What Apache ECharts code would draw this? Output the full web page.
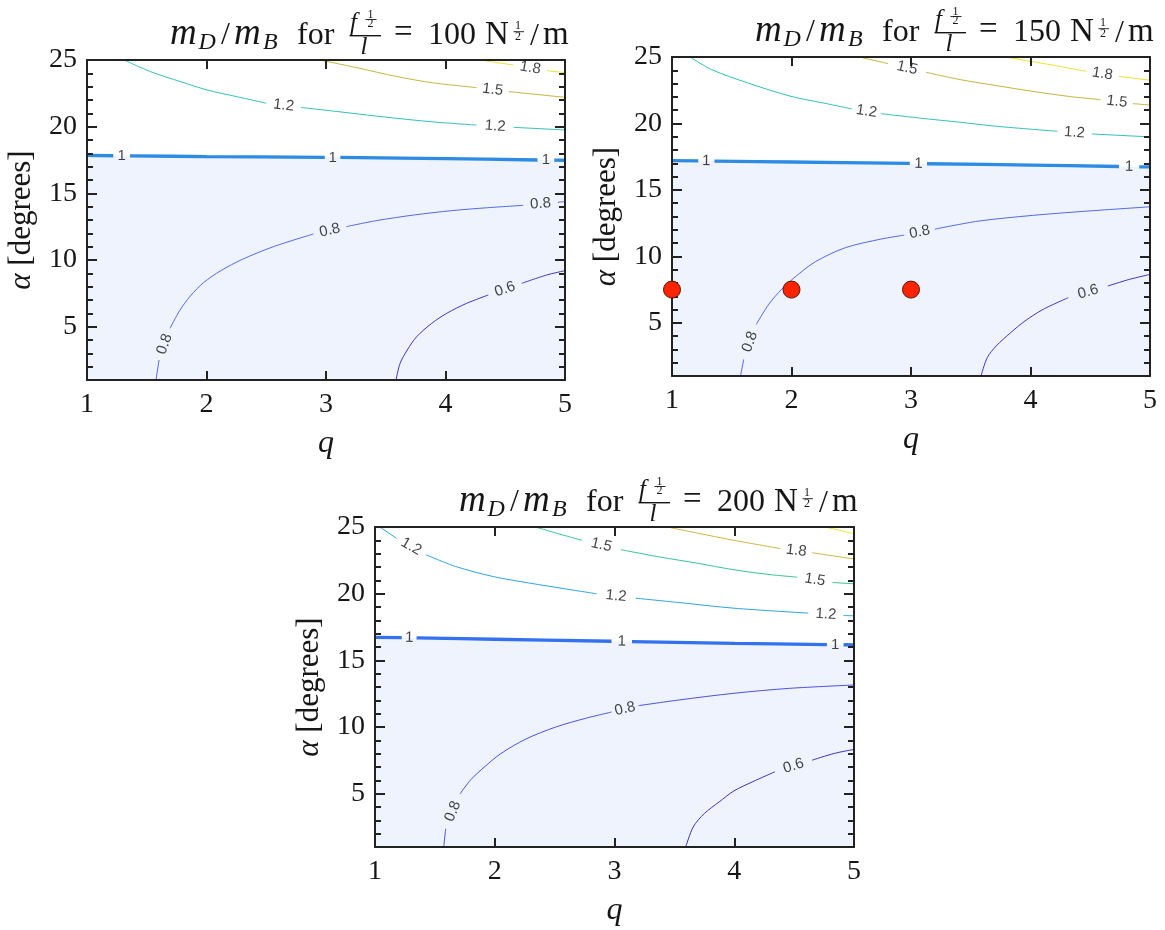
<!DOCTYPE html>
<html><head><meta charset="utf-8">
<script src="https://cdn.jsdelivr.net/npm/echarts@6/dist/echarts.min.js"></script>
<style>html,body{margin:0;padding:0;background:#fff}#c{width:1165px;height:930px}</style>
</head><body><div id="c"></div>
<script>
// ---------------- DATA ----------------
const qTicks = [1, 2, 3, 4, 5];
const alphaTicks = [5, 10, 15, 20, 25];
const alphaRange = [1, 25];
const titleValues = ['100', '150', '200'];

// contour polylines [q, alpha]; null = gap where the contour label sits
// Panel 1 : f^(1/2)/l = 100
const p1_c06 = [[3.586,1.0],[3.62,2.25],[3.68,3.25],[3.759,4.25],[3.885,5.25],[4.01,6.0],[4.177,6.75],[4.358,7.375],null,[4.638,8.25],[4.847,8.875],[5.0,9.2]];
const p1_c08 = [[1.577,1.0],[1.603,2.5],null,[1.695,4.875],[1.775,6.2],[1.865,7.3],[1.975,8.3],[2.12,9.2],[2.3,10.05],[2.56,11.0],[2.894,11.95],null,[3.17,12.5],[3.42,12.95],[3.74,13.38],[4.05,13.7],[4.35,13.92],[4.65,14.1],null,[4.94,14.33],[5.0,14.38]];
const p1_c10 = [[1,17.84],[1.22,17.82],null,[1.36,17.81],[2,17.76],[2.99,17.7],null,[3.12,17.69],[4,17.6],[4.77,17.5],null,[4.91,17.49],[5,17.48]];
const p1_c12 = [[1.312,25],[1.533,24.12],[1.785,23.37],[2.006,22.75],[2.258,22.24],[2.5,21.76],null,[2.79,21.44],[3.109,21.12],[3.424,20.79],[3.739,20.49],[4.0,20.28],[4.26,20.12],null,[4.57,19.95],[5,19.75]];
const p1_c15 = [[2.95,25],[3.27,24.4],[3.58,23.78],[3.9,23.28],[4.26,22.93],null,[4.53,22.63],[5,22.2]];
const p1_c18 = [[4.29,25],[4.57,24.62],null,[4.85,24.2],[5,24.05]];

// Panel 2 : f^(1/2)/l = 150
const p2_c06 = [[3.586,1],[3.638,2.38],[3.713,3.26],[3.834,4.26],[3.954,5.14],[4.105,6.01],[4.316,6.89],null,[4.647,7.77],[4.828,8.27],[5,8.64]];
const p2_c08 = [[1.573,1],[1.6,2.25],null,[1.705,4.88],[1.81,6.4],[1.92,7.55],[2.03,8.45],[2.2,9.6],[2.45,10.65],[2.748,11.3],[2.944,11.6],null,[3.2,12.05],[3.562,12.65],[4.014,13.08],[4.466,13.4],[5,13.73]];
const p2_c10 = [[1,17.21],[1.22,17.19],null,[1.355,17.17],[2,17.1],[2.99,16.99],null,[3.134,16.97],[4,16.87],[4.74,16.76],null,[4.91,16.74],[5,16.73]];
const p2_c12 = [[1.151,25],[1.332,24.05],[1.633,23.05],[1.995,22.04],[2.266,21.54],[2.507,21.09],null,[2.748,20.74],[3.11,20.37],[3.411,20.09],[3.713,19.79],[4.225,19.41],null,[4.512,19.21],[5,18.99]];
const p2_c15 = [[2.567,25],[2.809,24.5],null,[3.125,23.85],[3.411,23.3],[3.713,22.85],[4.014,22.42],[4.316,22.04],[4.587,21.79],null,[4.858,21.49],[5,21.39]];
const p2_c18 = [[3.788,25],[4.165,24.42],[4.466,23.92],null,[4.738,23.55],[5,23.25]];
const p2_pointsQ = [1, 2, 3];
const p2_pointsAlpha = [7.5, 7.5, 7.5];

// Panel 3 : f^(1/2)/l = 200
const p3_c06 = [[3.595,1],[3.657,2.5],[3.75,3.51],[3.874,4.38],[3.998,5.21],[4.153,5.89],[4.339,6.64],null,[4.65,7.51],[4.836,8.02],[5,8.32]];
const p3_c08 = [[1.574,1],[1.59,2.37],null,[1.71,4.98],[1.8,6.05],[1.92,7.05],[2.05,8.0],[2.26,9.1],[2.51,10.0],[2.758,10.65],[2.975,11.12],null,[3.2,11.6],[3.533,12.02],[3.998,12.53],[4.463,12.9],[5,13.15]];
const p3_c10 = [[1,16.72],[1.223,16.7],null,[1.347,16.68],[2,16.58],[2.975,16.43],null,[3.146,16.41],[4,16.27],[4.774,16.18],null,[4.913,16.17],[5,16.16]];
const p3_c12 = [[1.04,25],[1.18,24.15],null,[1.425,22.92],[1.673,22.04],[1.983,21.29],[2.293,20.79],[2.603,20.34],[2.851,19.99],null,[3.177,19.66],[3.533,19.34],[3.998,18.91],[4.618,18.54],null,[4.913,18.36],[5,18.34]];
const p3_c15 = [[2.34,25],[2.51,24.55],[2.727,24.0],null,[3.053,23.3],[3.378,22.75],[3.688,22.29],[3.998,21.79],[4.309,21.42],[4.526,21.24],null,[4.82,20.84],[5,20.74]];
const p3_c18 = [[3.44,25],[3.688,24.55],[3.998,24.0],[4.386,23.38],null,[4.65,23.07],[5,22.6]];
const p3_c21 = [[4.76,25],[5,24.5]];

// ---------------- LAYOUT / STYLE ----------------
const grids = [
  {left: 87, top: 60, width: 478, height: 320},
  {left: 672, top: 57, width: 478, height: 319},
  {left: 375, top: 527, width: 479, height: 320}
];
const colA = {'0.6':'#4234c4','0.8':'#5566ee','1':'#2d8be4','1.2':'#2ec2c0','1.5':'#c9b43a','1.8':'#ece22a'};
const colB = {'0.6':'#3f30c2','0.8':'#4a52e6','1':'#3471ef','1.2':'#2ca3ec','1.5':'#32c59a','1.8':'#d5b53c','2.1':'#f4e42a'};
const panels = [
  {contours: [['0.6',p1_c06],['0.8',p1_c08],['1',p1_c10],['1.2',p1_c12],['1.5',p1_c15],['1.8',p1_c18]], fill: p1_c10, colors: colA},
  {contours: [['0.6',p2_c06],['0.8',p2_c08],['1',p2_c10],['1.2',p2_c12],['1.5',p2_c15],['1.8',p2_c18]], fill: p2_c10, colors: colA,
   points: p2_pointsQ.map((q, i) => [q, p2_pointsAlpha[i]])},
  {contours: [['0.6',p3_c06],['0.8',p3_c08],['1',p3_c10],['1.2',p3_c12],['1.5',p3_c15],['1.8',p3_c18],['2.1',p3_c21]], fill: p3_c10, colors: colB}
];

const SERIF = 'Liberation Serif';
const SANS = 'Liberation Sans';
const INK = '#161616';
const FRAME = '#222';
const FILL = '#eef3fd';

function splitSegs(arr) {
  const out = []; let cur = [];
  arr.forEach(p => { if (p === null) { if (cur.length) out.push(cur); cur = []; } else cur.push(p); });
  if (cur.length) out.push(cur);
  return out;
}

const xAxis = [], yAxis = [], series = [], graphic = [];

grids.forEach((g, gi) => {
  const lineStyle = {color: FRAME, width: 2};
  xAxis.push({type:'value', gridIndex: gi, position:'bottom', min: qTicks[0], max: qTicks[qTicks.length-1], interval: 1, z: 10,
    axisLine:{show:true, onZero:false, lineStyle}, axisTick:{inside:true, length:9, lineStyle:{color:FRAME, width:2}},
    axisLabel:{margin: 11, fontFamily: SERIF, fontSize: 28, color: INK}, splitLine:{show:false},
    name:'q', nameLocation:'middle', nameGap: 48,
    nameTextStyle:{fontFamily: SERIF, fontStyle:'italic', fontSize: 32, color: INK}});
  xAxis.push({type:'value', gridIndex: gi, position:'top', min: qTicks[0], max: qTicks[qTicks.length-1], interval: 1, z: 10,
    axisLine:{show:true, onZero:false, lineStyle}, axisTick:{inside:true, length:9, lineStyle:{color:FRAME, width:2}},
    axisLabel:{show:false}, splitLine:{show:false}});
  yAxis.push({type:'value', gridIndex: gi, position:'left', min: alphaRange[0], max: alphaRange[1], z: 10,
    axisLine:{show:true, onZero:false, lineStyle}, axisTick:{inside:true, length:10, customValues: alphaTicks, lineStyle:{color:FRAME, width:2}},
    axisLabel:{customValues: alphaTicks, margin: 10, fontFamily: SERIF, fontSize: 28, color: INK}, splitLine:{show:false},
    name:'{a|α} [degrees]', nameLocation:'middle', nameGap: 50, nameRotate: 90,
    nameTextStyle:{fontFamily: SERIF, fontSize: 31, color: INK, rich:{a:{fontFamily: SERIF, fontStyle:'italic', fontSize: 31, color: INK}}}});
  yAxis.push({type:'value', gridIndex: gi, position:'left', min: alphaRange[0], max: alphaRange[1], interval: 1, z: 10,
    axisLine:{show:false}, axisTick:{inside:true, length:6, lineStyle:{color:FRAME, width:2}},
    axisLabel:{show:false}, splitLine:{show:false}});
  yAxis.push({type:'value', gridIndex: gi, position:'right', min: alphaRange[0], max: alphaRange[1], z: 10,
    axisLine:{show:true, onZero:false, lineStyle}, axisTick:{inside:true, length:10, customValues: alphaTicks, lineStyle:{color:FRAME, width:2}},
    axisLabel:{show:false}, splitLine:{show:false}});
  yAxis.push({type:'value', gridIndex: gi, position:'right', min: alphaRange[0], max: alphaRange[1], interval: 1, z: 10,
    axisLine:{show:false}, axisTick:{inside:true, length:6, lineStyle:{color:FRAME, width:2}},
    axisLabel:{show:false}, splitLine:{show:false}});

  const P = panels[gi];
  const xi = gi * 2, yi = gi * 4;
  const pxq = g.width / (qTicks[qTicks.length-1] - qTicks[0]);
  const pya = g.height / (alphaRange[1] - alphaRange[0]);

  series.push({type:'line', xAxisIndex: xi, yAxisIndex: yi, data: P.fill.filter(p => p !== null),
    symbol:'none', smooth: 0.2, lineStyle:{width:0, opacity:0}, areaStyle:{color: FILL, origin:'start', opacity:1},
    z: 1, silent: true, animation: false});

  const labels = [];
  P.contours.forEach(([lev, arr]) => {
    const w = lev === '1' ? 3.3 : 1.0;
    splitSegs(arr).forEach(seg => {
      series.push({type:'line', xAxisIndex: xi, yAxisIndex: yi, data: seg, symbol:'none', showSymbol:false,
        smooth: 0.3, lineStyle:{color: P.colors[lev], width: w}, z: 3, silent: true, animation: false});
    });
    arr.forEach((p, i) => {
      if (p === null) {
        const a = arr[i-1], b = arr[i+1];
        const ang = Math.atan2((b[1]-a[1]) * pya, (b[0]-a[0]) * pxq) * 180 / Math.PI;
        labels.push({value:[(a[0]+b[0])/2, (a[1]+b[1])/2], label:{rotate: Math.round(ang), formatter: lev}});
      }
    });
  });
  series.push({type:'scatter', xAxisIndex: xi, yAxisIndex: yi, data: labels, symbolSize: 0, z: 4, silent: true, animation: false,
    label:{show:true, position:'inside', fontFamily: SANS, fontSize: 15, color:'#111'}});

  if (P.points) {
    series.push({type:'scatter', xAxisIndex: xi, yAxisIndex: yi, data: P.points, symbol:'circle', symbolSize: 17,
      itemStyle:{color:'#ff2400', opacity: 1, borderColor:'#5a1508', borderWidth: 1}, z: 20, clip: false, silent: true, animation: false});
  }

  // title built from text pieces (positions relative to the panel's top-right corner)
  const dx = (g.left + g.width) - 565, dy = g.top - 60;
  const T = (x, y, text, size, italic) => ({type:'text', x: x + dx, y: y + dy, z: 100,
    style:{text, fontFamily: SERIF, fontSize: size, fontStyle: italic ? 'italic' : 'normal', fill: INK, align:'left', verticalAlign:'middle'}});
  const L = (x1, x2, y, lw) => ({type:'line', z: 100, shape:{x1: x1 + dx, y1: y + dy, x2: x2 + dx, y2: y + dy}, style:{stroke: INK, lineWidth: lw}});
  graphic.push(
    T(170, 34.5, 'm', 37, true), T(198.5, 42.8, 'D', 24, true), T(221, 36, '/', 32, false),
    T(234, 34.5, 'm', 37, true), T(263, 42.8, 'B', 24, true),
    T(297, 35.4, 'for', 32, false),
    T(350, 23.8, 'f', 25, true), T(367.5, 14.8, '1', 12, false), L(365.5, 376.5, 19.5, 0.9), T(367.5, 23.6, '2', 12, false),
    L(349.5, 381, 35.7, 1.4), T(360.5, 47.8, 'l', 25, true),
    T(394, 33.8, '=', 33, false),
    T(428, 35.4, titleValues[gi], 32, false),
    T(485, 35.4, 'N', 33, false), T(515, 26, '1', 12, false), L(513.5, 524, 31.7, 0.9), T(515, 37.2, '2', 12, false),
    T(530, 36.5, '/', 32, false), T(543, 35.4, 'm', 33, false)
  );
});

const chart = echarts.init(document.getElementById('c'), null, {renderer:'canvas'});
chart.setOption({
  animation: false,
  backgroundColor: '#fff',
  grid: grids.map(g => Object.assign({containLabel:false}, g)),
  xAxis, yAxis, series, graphic
});
</script>
</body></html>
